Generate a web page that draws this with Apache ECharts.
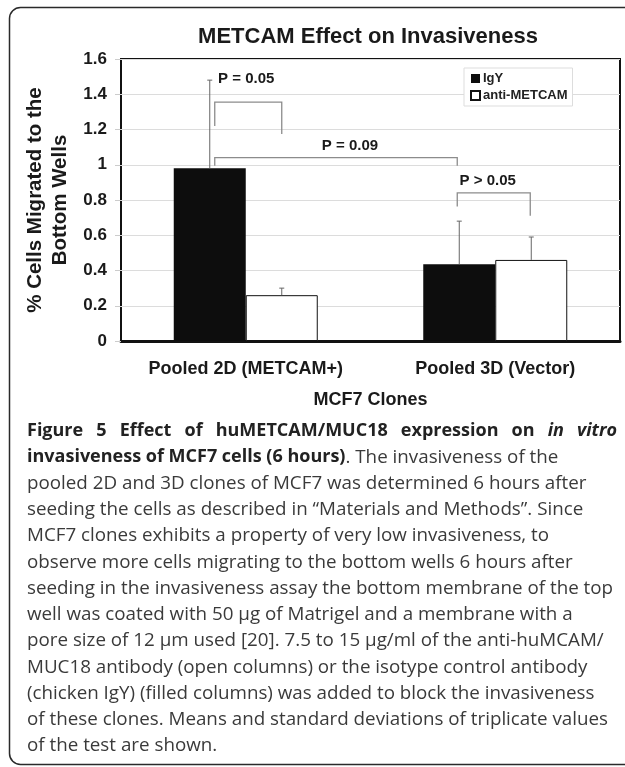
<!DOCTYPE html>
<html>
<head>
<meta charset="utf-8">
<script src="https://cdn.jsdelivr.net/npm/echarts@6/dist/echarts.min.js"></script>
<style>
  html, body { margin: 0; padding: 0; background: #fff; }
  #main { width: 625px; height: 767px; }
</style>
</head>
<body>
<div id="main"></div>
<script>
// data
var categories = ['Pooled 2D (METCAM+)', 'Pooled 3D (Vector)'];
var igyMean = [0.98, 0.435];
var igySd = [0.50, 0.245];
var antiMean = [0.26, 0.46];
var antiSd = [0.04, 0.13];
var yTicks = [0, 0.2, 0.4, 0.6, 0.8, 1, 1.2, 1.4, 1.6];

// significance brackets: [category, bar slot] ends, top and leg ends in y units
var pLabels = ['P = 0.05', 'P = 0.09', 'P > 0.05'];
var pFrom = [[0, 0], [0, 0], [1, 0]];
var pTo = [[0, 1], [1, 0], [1, 1]];
var pTop = [1.355, 1.04, 0.84];
var pLegEnd = [[1.22, 1.175], [0.995, 0.995], [0.763, 0.71]];
var pLabelY = [1.485, 1.105, 0.908];

// caption: first line is justified, the rest are set as they are
var captionHead = [['Figure 5 Effect of huMETCAM/MUC18 expression on', 'b'], ['in vitro', 'bi']];
var captionLines = [
    '{b|invasiveness of MCF7 cells (6 hours)}{r|. The invasiveness of the}',
    '{r|pooled 2D and 3D clones of MCF7 was determined 6 hours after}',
    '{r|seeding the cells as described in \u201cMaterials and Methods\u201d. Since}',
    '{r|MCF7 clones exhibits a property of very low invasiveness, to}',
    '{r|observe more cells migrating to the bottom wells 6 hours after}',
    '{r|seeding in the invasiveness assay the bottom membrane of the top}',
    '{r|well was coated with 50 \u00b5g of Matrigel and a membrane with a}',
    '{r|pore size of 12 \u00b5m used [20]. 7.5 to 15 \u00b5g/ml of the anti-huMCAM/}',
    '{r|MUC18 antibody (open columns) or the isotype control antibody}',
    '{r|(chicken IgY) (filled columns) was added to block the invasiveness}',
    '{r|of these clones. Means and standard deviations of triplicate values}',
    '{r|of the test are shown.}'
];

var BAR_W = 72;
var legDx = [[5, 0], [5, -2], [-2, -1]];
var labelDx = [-2, 14, -6];
var FONT = 'Liberation Sans, Arial, sans-serif';
var CAP_X = 27, CAP_W = 590, CAP_TOP = 431, CAP_STEP = 26.25;

var chart = echarts.init(document.getElementById('main'));

function slotX(api, cat, slot) {
    var cx = api.coord([cat, 0])[0];
    return cx + (slot === 0 ? -BAR_W / 2 : BAR_W / 2);
}

function errorRender(slot, sd) {
    return function (params, api) {
        var cat = api.value(0);
        var m = api.value(1);
        var x = slotX(api, cat, slot);
        var p0 = api.coord([cat, m]);
        var p1 = api.coord([cat, m + sd[params.dataIndex]]);
        var st = { stroke: '#666', lineWidth: 1 };
        return {
            type: 'group',
            children: [
                { type: 'line', shape: { x1: x, y1: p0[1], x2: x, y2: p1[1] }, style: st },
                { type: 'line', shape: { x1: x - 2.5, y1: p1[1], x2: x + 2.5, y2: p1[1] }, style: st }
            ]
        };
    };
}

function bracketRender(params, api) {
    var i = params.dataIndex;
    var xa = slotX(api, pFrom[i][0], pFrom[i][1]) + legDx[i][0];
    var xb = slotX(api, pTo[i][0], pTo[i][1]) + legDx[i][1];
    var yt = api.coord([0, pTop[i]])[1];
    var ya = api.coord([0, pLegEnd[i][0]])[1];
    var yb = api.coord([0, pLegEnd[i][1]])[1];
    var yl = api.coord([0, pLabelY[i]])[1];
    var st = { stroke: '#8c8c8c', lineWidth: 1.3, fill: null };
    return {
        type: 'group',
        children: [
            { type: 'polyline', shape: { points: [[xa, ya], [xa, yt], [xb, yt], [xb, yb]] }, style: st },
            {
                type: 'text', x: (xa + xb) / 2 + labelDx[i], y: yl,
                style: {
                    text: pLabels[i], align: 'center', verticalAlign: 'middle',
                    fill: '#1a1a1a', font: 'bold 15px ' + FONT
                }
            }
        ]
    };
}

var capFonts = {
    b: 'bold 18px "Open Sans"',
    bi: 'italic bold 18px "Open Sans"',
    r: '18.8px "Open Sans"'
};
var capRich = {
    b: { fontFamily: 'Open Sans', fontSize: 18, fontWeight: 'bold', fill: '#222' },
    bi: { fontFamily: 'Open Sans', fontSize: 18, fontWeight: 'bold', fontStyle: 'italic', fill: '#222' },
    r: { fontFamily: 'Open Sans', fontSize: 18.8, fill: '#3a3a3a' }
};

var graphics = [{
    type: 'rect',
    shape: { x: 9.5, y: 7.5, width: 700, height: 757, r: 11 },
    style: { fill: null, stroke: '#2a2a2a', lineWidth: 1.5 },
    silent: true
}];

// justified first caption line
var ctx = document.createElement('canvas').getContext('2d');
var words = [];
captionHead.forEach(function (part) {
    part[0].split(' ').forEach(function (w) {
        ctx.font = capFonts[part[1]];
        words.push({ text: w, style: part[1], w: ctx.measureText(w).width });
    });
});
var used = words.reduce(function (s, w) { return s + w.w; }, 0);
var gap = (CAP_W - used) / (words.length - 1);
var wx = CAP_X;
words.forEach(function (w) {
    graphics.push({
        type: 'text', x: wx, y: CAP_TOP,
        style: {
            text: w.text, font: capFonts[w.style], fill: '#222',
            verticalAlign: 'middle'
        }
    });
    wx += w.w + gap;
});

captionLines.forEach(function (line, i) {
    graphics.push({
        type: 'text',
        x: CAP_X,
        y: CAP_TOP + (i + 1) * CAP_STEP,
        style: { text: line, fill: '#333', verticalAlign: 'middle', rich: capRich }
    });
});

var option = {
    animation: false,
    backgroundColor: '#fff',
    textStyle: { fontFamily: FONT },
    title: {
        text: 'METCAM Effect on Invasiveness',
        left: 363,
        top: 21,
        textAlign: 'center',
        textStyle: { fontSize: 22, fontWeight: 'bold', color: '#1a1a1a', fontFamily: FONT }
    },
    legend: {
        data: ['IgY', 'anti-METCAM'],
        orient: 'vertical',
        left: 464,
        top: 68,
        icon: 'rect',
        itemWidth: 9,
        itemHeight: 9,
        itemGap: 4,
        padding: [4, 5, 4, 6],
        borderColor: '#ddd',
        borderWidth: 1,
        backgroundColor: '#fff',
        textStyle: { fontSize: 13, fontWeight: 'bold', color: '#222', padding: [0, 0, 0, -2] }
    },
    grid: {
        left: 121,
        top: 59,
        right: 5,
        bottom: 426,
        show: true,
        borderColor: '#111',
        borderWidth: 2,
        containLabel: false
    },
    xAxis: {
        type: 'category',
        data: categories,
        axisTick: { show: false },
        axisLine: { lineStyle: { color: '#111', width: 3 } },
        axisLabel: { interval: 0, margin: 19, fontSize: 18, fontWeight: 'bold', color: '#1a1a1a' },
        name: 'MCF7 Clones',
        nameLocation: 'middle',
        nameGap: 50,
        nameTextStyle: { fontSize: 18, fontWeight: 'bold', color: '#1a1a1a' }
    },
    yAxis: {
        type: 'value',
        min: yTicks[0],
        max: yTicks[yTicks.length - 1],
        interval: 0.2,
        axisLine: { show: false },
        axisTick: { show: true, length: 6, lineStyle: { color: '#ccc' } },
        splitLine: { lineStyle: { color: '#dcdcdc', width: 1 } },
        axisLabel: { margin: 14, fontSize: 17, fontWeight: 'bold', color: '#1a1a1a' },
        name: '% Cells Migrated to the\nBottom Wells',
        nameLocation: 'middle',
        nameGap: 44,
        nameTextStyle: { fontSize: 20.5, fontWeight: 'bold', color: '#1a1a1a', lineHeight: 25 }
    },
    series: [
        {
            name: 'IgY',
            type: 'bar',
            barWidth: BAR_W,
            barGap: '0%',
            data: igyMean,
            itemStyle: { color: '#0d0d0d' }
        },
        {
            name: 'anti-METCAM',
            type: 'bar',
            barWidth: BAR_W,
            barGap: '0%',
            data: antiMean,
            itemStyle: { color: '#fff', borderColor: '#111', borderWidth: 1 }
        },
        {
            type: 'custom',
            renderItem: errorRender(0, igySd),
            data: igyMean.map(function (v, i) { return [i, v]; }),
            z: 5, silent: true
        },
        {
            type: 'custom',
            renderItem: errorRender(1, antiSd),
            data: antiMean.map(function (v, i) { return [i, v]; }),
            z: 5, silent: true
        },
        {
            type: 'custom',
            renderItem: bracketRender,
            data: pLabels.map(function (l, i) { return [pFrom[i][0], pTop[i]]; }),
            z: 6, silent: true
        }
    ],
    graphic: graphics
};

if (option && typeof option === "object") {
    chart.setOption(option, true);
}
</script>
</body>
</html>
